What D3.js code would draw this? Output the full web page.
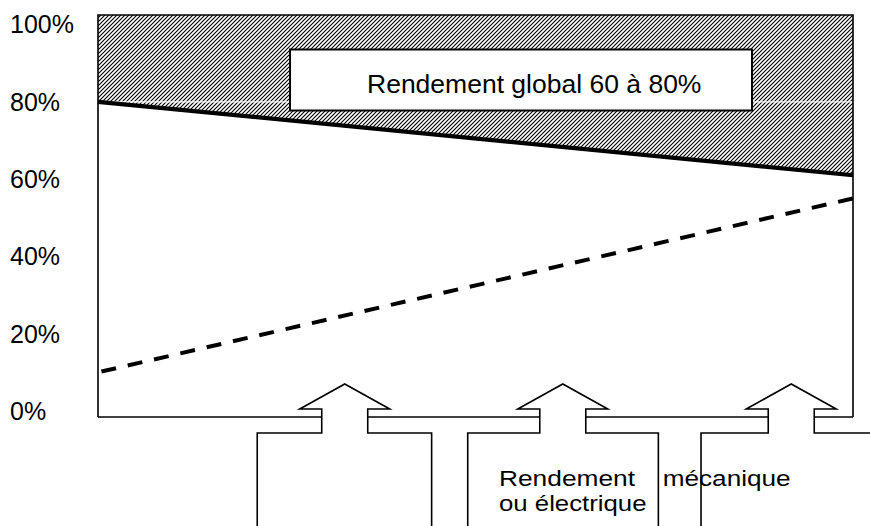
<!DOCTYPE html>
<html>
<head>
<meta charset="utf-8">
<script src="https://cdn.jsdelivr.net/npm/d3@7"></script>
<style>
  html, body { margin: 0; padding: 0; background: #fff; }
  svg { display: block; font-family: "Liberation Sans", Arial, sans-serif; }
</style>
</head>
<body>
<svg id="chart" width="870" height="526"></svg>
<script>
// ---- data ----
const xPositions = [0, 1];                 // left edge, right edge of the plot
const globalEfficiency = [0.80, 0.61];     // solid line (top of hatched zone)
const partialEfficiency = [0.10, 0.55];    // dashed line
const yTicks = [0, 0.2, 0.4, 0.6, 0.8, 1.0];
const yTickLabels = ["0%", "20%", "40%", "60%", "80%", "100%"];
const boxLabel = "Rendement global 60 à 80%";
const bottomLabels = ["Rendement", "mécanique", "ou électrique"];
// arrows: centre of each arrow (in plot fraction) and the column it comes from
const arrowCenters = [0.3268, 0.6156, 0.9182];
const columnLefts = [0.2109, 0.4897, 0.7987];
const columnRights = [0.4419, 0.7422, 1.0];

// ---- layout ----
const W = 870, H = 526;
const frame = { left: 98, right: 853, top: 15, bottom: 417 };
const svg = d3.select("#chart");

const x = d3.scaleLinear().domain([0, 1]).range([frame.left, frame.right]);
const y = d3.scaleLinear().domain([0, 1]).range([411, 24.5]);

// hatch pattern
const defs = svg.append("defs");
defs.append("pattern")
  .attr("id", "hatch").attr("patternUnits", "userSpaceOnUse")
  .attr("width", 4).attr("height", 4)
  .append("path")
  .attr("d", "M-1,1 l2,-2 M0,4 l4,-4 M3,5 l2,-2")
  .attr("stroke", "#000").attr("stroke-width", 1.1);

// hatched zone: from frame top down to the global efficiency line
const pts = xPositions.map((p, i) => [x(p), y(globalEfficiency[i])]);
const hatchPoly = [[x(0), frame.top], [x(1), frame.top], pts[1], pts[0]];
svg.append("path")
  .attr("d", d3.line()(hatchPoly) + "Z")
  .attr("fill", "url(#hatch)");

// white gridlines (visible on the hatch)
svg.append("g").selectAll("line")
  .data(yTicks.filter(t => t > 0 && t < 1))
  .join("line")
  .attr("x1", frame.left).attr("x2", frame.right)
  .attr("y1", d => y(d)).attr("y2", d => y(d))
  .attr("stroke", "#fff").attr("stroke-width", 1.2);

// y axis labels
svg.append("g").selectAll("text")
  .data(yTicks)
  .join("text")
  .attr("x", 10)
  .attr("y", d => y(d) + 8.8)
  .attr("font-size", 25)
  .attr("fill", "#000")
  .text((d, i) => yTickLabels[i]);

// lines
const line = d3.line().x(d => x(d[0])).y(d => y(d[1]));
svg.append("path")
  .attr("d", line(xPositions.map((p, i) => [p, globalEfficiency[i]])))
  .attr("fill", "none").attr("stroke", "#000").attr("stroke-width", 4.2);
svg.append("path")
  .attr("d", line(xPositions.map((p, i) => [p, partialEfficiency[i]])))
  .attr("fill", "none").attr("stroke", "#000").attr("stroke-width", 4)
  .attr("stroke-dasharray", "15,12").attr("stroke-dashoffset", -3.5);

// label box
svg.append("rect")
  .attr("x", 290).attr("y", 49.5).attr("width", 462).attr("height", 61)
  .attr("fill", "#fff").attr("stroke", "#000").attr("stroke-width", 2);
svg.append("text")
  .attr("x", 367).attr("y", 93.3)
  .attr("font-size", 26.5).attr("fill", "#000")
  .text(boxLabel);

// frame (top, left, right) and bottom broken by arrow stems
const g = svg.append("g").attr("fill", "none").attr("stroke", "#000").attr("stroke-width", 1.6);
g.append("path").attr("d",
  `M${frame.left},${frame.bottom}V${frame.top}H${frame.right}V${frame.bottom}`);

const stemHalf = 23, headHalf = 45, headBase = 409, apexY = 384, colTop = 433;
let bx = frame.left;
arrowCenters.forEach(c => {
  const cx = x(c);
  g.append("path").attr("d", `M${bx},${frame.bottom}H${cx - stemHalf}`);
  bx = cx + stemHalf;
});
g.append("path").attr("d", `M${bx},${frame.bottom}H${frame.right}`);

arrowCenters.forEach((c, i) => {
  const cx = x(c);
  const l = x(columnLefts[i]);
  const r = columnRights[i] >= 1 ? W + 5 : x(columnRights[i]);
  g.append("path").attr("d",
    `M${l},${H + 5}V${colTop}H${cx - stemHalf}V${headBase}H${cx - headHalf}` +
    `L${cx},${apexY}L${cx + headHalf},${headBase}H${cx + stemHalf}V${colTop}H${r}` +
    (columnRights[i] >= 1 ? "" : `V${H + 5}`));
});

// bottom text (horizontally stretched as in the source drawing)
const bt = svg.append("g").attr("font-size", 22).attr("fill", "#000");
bt.append("text").attr("x", 499).attr("y", 485.7)
  .attr("textLength", 136).attr("lengthAdjust", "spacingAndGlyphs").text(bottomLabels[0]);
bt.append("text").attr("x", 662.7).attr("y", 485.7)
  .attr("textLength", 128).attr("lengthAdjust", "spacingAndGlyphs").text(bottomLabels[1]);
bt.append("text").attr("x", 499).attr("y", 511)
  .attr("textLength", 147.5).attr("lengthAdjust", "spacingAndGlyphs").text(bottomLabels[2]);
</script>
</body>
</html>
